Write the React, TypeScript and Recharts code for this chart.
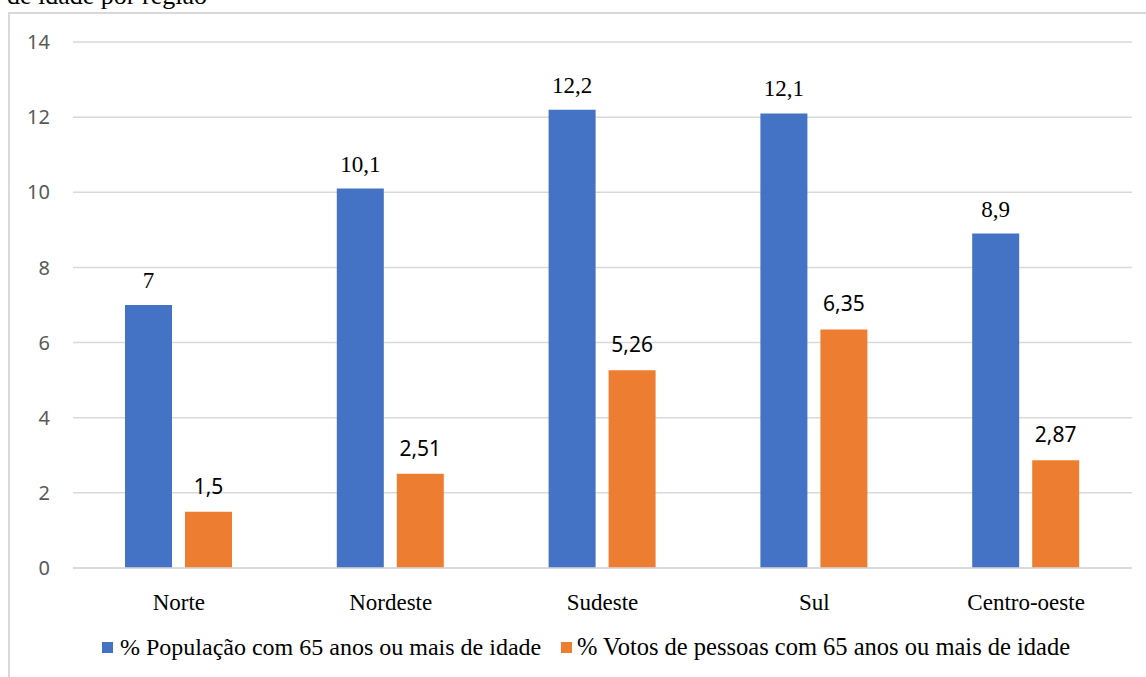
import React from 'react';
import { BarChart, Bar, XAxis, YAxis, CartesianGrid, LabelList, Legend } from 'recharts';

const regions = ['Norte', 'Nordeste', 'Sudeste', 'Sul', 'Centro-oeste'];
const populacao = [7, 10.1, 12.2, 12.1, 8.9];
const votos = [1.5, 2.51, 5.26, 6.35, 2.87];
const yTicks = [0, 2, 4, 6, 8, 10, 12, 14];
const seriesNames = ['% População com 65 anos ou mais de idade', '% Votos de pessoas com 65 anos ou mais de idade'];
const titleText = 'de idade por região';

const data = regions.map((r, i) => ({ region: r, pop: populacao[i], votos: votos[i] }));

const BLUE = '#4472C4';
const ORANGE = '#ED7D31';
const SERIF = '"Liberation Serif", "Times New Roman", serif';
const SANS = '"Noto Sans", "Open Sans", sans-serif';

const fmt = (v: any) => String(v).replace('.', ',');

const LegendContent = () => (
  <div style={{ position: 'relative', width: 1146, height: 30 }}>
    <div style={{ position: 'absolute', left: 102, top: 10, width: 11, height: 11, background: BLUE }} />
    <div style={{ position: 'absolute', left: 120, top: 0, fontFamily: SERIF, fontSize: 24, lineHeight: '30px', color: '#000', whiteSpace: 'nowrap' }}>{seriesNames[0]}</div>
    <div style={{ position: 'absolute', left: 561, top: 10, width: 11, height: 11, background: ORANGE }} />
    <div style={{ position: 'absolute', left: 577, top: 0, fontFamily: SERIF, fontSize: 24.5, lineHeight: '30px', color: '#000', whiteSpace: 'nowrap' }}>{seriesNames[1]}</div>
  </div>
);

export default function App() {
  return (
    <div style={{ position: 'absolute', left: 0, top: 0, width: 1146, height: 677, overflow: 'hidden', background: '#fff' }}>
      <div style={{ position: 'absolute', left: 8, top: 12, width: 1200, height: 800, borderLeft: '2px solid #d9d9d9', borderTop: '2px solid #d9d9d9' }} />
      <div style={{ position: 'absolute', left: 7, top: -17, fontFamily: SERIF, fontSize: 26, lineHeight: '26px', color: '#000', whiteSpace: 'nowrap' }}>{titleText}</div>
      <div style={{ position: 'absolute', left: 0, top: 0 }}>
        <BarChart width={1146} height={677} data={data} margin={{ top: 42, right: 14, bottom: 79, left: 13 }} barSize={47} barGap={13}>
          <CartesianGrid vertical={false} stroke="#d9d9d9" strokeWidth={1.5} />
          <XAxis
            dataKey="region"
            axisLine={{ stroke: '#d9d9d9', strokeWidth: 1.5 }}
            tickLine={false}
            tickSize={0}
            tickMargin={26}
            tick={{ fill: '#000', fontSize: 23, fontFamily: SERIF }}
            height={30}
          />
          <YAxis
            width={60}
            domain={[0, 14]}
            ticks={yTicks}
            axisLine={false}
            tickLine={false}
            tickSize={0}
            tickMargin={23}
            tick={{ fill: '#595959', fontSize: 20, fontFamily: SANS }}
          />
          <Legend verticalAlign="middle" layout="horizontal" wrapperStyle={{ position: 'absolute', top: 632, left: 0, width: 1146, height: 30 }} content={LegendContent} />
          <Bar dataKey="pop" name={seriesNames[0]} fill={BLUE} isAnimationActive={false}>
            <LabelList dataKey="pop" position="top" offset={17} formatter={fmt} fill="#000" fontSize={23} fontFamily={SERIF} />
          </Bar>
          <Bar dataKey="votos" name={seriesNames[1]} fill={ORANGE} isAnimationActive={false}>
            <LabelList dataKey="votos" position="top" offset={18} formatter={fmt} fill="#000" fontSize={21} fontFamily={SANS} />
          </Bar>
        </BarChart>
      </div>
    </div>
  );
}
